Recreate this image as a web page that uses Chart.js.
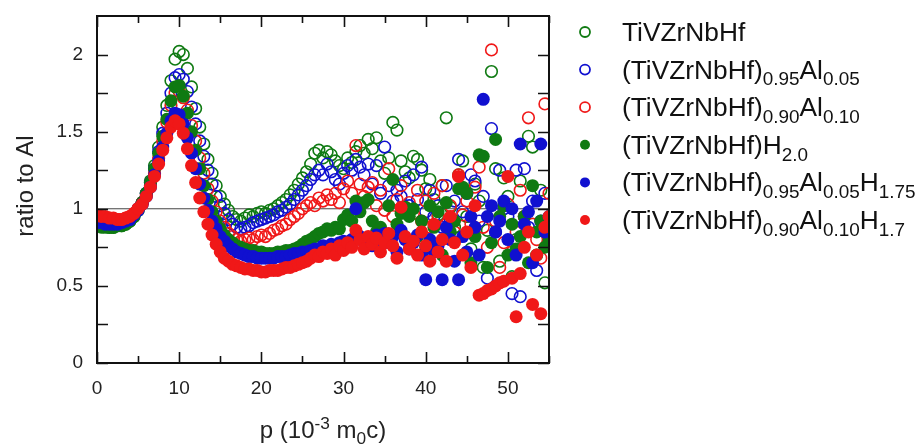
<!DOCTYPE html>
<html lang="en">
<head>
  <meta charset="UTF-8" />
  <title>Ratio to Al</title>
  <script src="https://cdn.jsdelivr.net/npm/chart.js"></script>
  <style>
    body {
      margin: 0;
      background: #fff;
    }
  </style>
</head>
<body>
  <canvas id="chartRatio" width="920" height="445"></canvas>

  <script>
    // momentum p (10^-3 m0c), shared by all series
    const pValues = [
      0, 0.5, 1, 1.5, 2, 2.5, 3, 3.5, 4, 4.5, 5, 5.5, 6, 6.5, 7, 7.5, 8, 8.5, 9, 9.5,
      10, 10.5, 11, 11.5, 12, 12.5, 13, 13.5, 14, 14.5, 15, 15.5, 16, 16.5, 17, 17.5, 18, 18.5, 19, 19.5,
      20, 20.5, 21, 21.5, 22, 22.5, 23, 23.5, 24, 24.5, 25, 25.5, 26, 26.5, 27, 27.5, 28, 28.5, 29, 29.5,
      30, 30.5, 31, 31.5, 32, 32.5, 33, 33.5, 34, 34.5, 35, 35.5, 36, 36.5, 37, 37.5, 38, 38.5, 39, 39.5,
      40, 40.5, 41, 41.5, 42, 42.5, 43, 43.5, 44, 44.5, 45, 45.5, 46, 46.5, 47, 47.5, 48, 48.5, 49, 49.5,
      50, 50.5, 51, 51.5, 52, 52.5, 53, 53.5, 54, 54.5, 55
    ];

    // TiVZrNbHf (open green)
    const hea = [
      0.90, 0.89, 0.89, 0.88, 0.88, 0.89, 0.89, 0.90, 0.92, 0.95, 0.99, 1.04, 1.10, 1.18, 1.28, 1.40, 1.53, 1.67, 1.83, 1.97,
      2.02, 2.00, 1.91, 1.79, 1.65, 1.53, 1.42, 1.32, 1.23, 1.15, 1.08, 1.03, 0.99, 0.95, 0.93, 0.92, 0.94, 0.96, 0.95, 0.97,
      0.98, 0.97, 0.99, 1.00, 1.02, 1.04, 1.06, 1.09, 1.12, 1.16, 1.20, 1.24, 1.29, 1.36, 1.38, 1.33, 1.37, 1.35, 1.31, 1.28,
      1.26, 1.33, 1.30, 1.37, 1.41, 1.36, 1.45, 1.39, 1.46, 1.31, 1.23, 1.33, 1.56, 1.51, 1.31, 1.24, 1.20, 1.34, 1.32, 1.25,
      1.13, 1.19, 1.06, 0.96, 1.15, 1.59, 1.01, 0.88, 1.22, 1.31, 0.95, 0.74, 1.16, 1.05, 0.62, 0.86, 1.89, 1.26, 0.66, 1.20,
      1.08, 0.56, 0.80, 1.18, 0.95, 1.47, 1.40, 0.70, 1.12, 0.52, 0.82
    ];
    // (TiVZrNbHf)0.95Al0.05 (open blue)
    const heaAl5 = [
      0.91, 0.91, 0.90, 0.90, 0.90, 0.90, 0.91, 0.92, 0.93, 0.96, 1.00, 1.04, 1.10, 1.17, 1.26, 1.37, 1.49, 1.62, 1.75, 1.85,
      1.87, 1.84, 1.76, 1.66, 1.55, 1.44, 1.34, 1.25, 1.16, 1.08, 1.02, 0.97, 0.93, 0.90, 0.88, 0.87, 0.88, 0.89, 0.91, 0.92,
      0.93, 0.94, 0.95, 0.96, 0.98, 0.99, 1.01, 1.03, 1.06, 1.09, 1.12, 1.15, 1.19, 1.22, 1.25, 1.22, 1.29, 1.24, 1.19, 1.16,
      1.23, 1.28, 1.25, 1.32, 1.27, 1.22, 1.29, 1.16, 1.28, 1.10, 1.40, 1.15, 1.05, 1.12, 1.08, 1.18, 1.02, 1.22, 1.06, 1.27,
      0.98, 1.12, 0.95, 1.02, 0.88, 1.15, 0.92, 1.05, 1.32, 0.98, 1.10, 1.22, 1.18, 0.92, 1.08, 0.55, 1.52, 0.85, 1.25, 1.00,
      0.95, 0.45, 1.25, 0.43, 1.26, 0.88, 1.05, 0.60, 0.92, 1.10, 0.78
    ];
    // (TiVZrNbHf)0.90Al0.10 (open red)
    const heaAl10 = [
      0.95, 0.95, 0.94, 0.94, 0.93, 0.93, 0.93, 0.94, 0.95, 0.97, 1.00, 1.04, 1.09, 1.15, 1.23, 1.33, 1.44, 1.56, 1.67, 1.75,
      1.76, 1.72, 1.64, 1.54, 1.44, 1.33, 1.23, 1.13, 1.05, 0.98, 0.92, 0.88, 0.84, 0.82, 0.80, 0.79, 0.80, 0.81, 0.80, 0.82,
      0.83, 0.82, 0.84, 0.86, 0.87, 0.89, 0.90, 0.93, 0.95, 0.97, 1.00, 1.02, 1.04, 1.02, 1.07, 1.05, 1.09, 1.06, 1.10, 1.04,
      1.13, 1.18, 1.10, 1.41, 1.16, 1.08, 1.14, 1.17, 1.02, 1.12, 0.99, 1.26, 0.95, 1.06, 1.15, 1.01, 1.04, 0.97, 1.12, 0.92,
      1.05, 0.88, 1.10, 0.95, 1.15, 0.90, 1.02, 0.85, 1.22, 0.96, 1.05, 0.90, 1.14, 1.27, 0.88, 0.75, 2.03, 0.92, 0.62, 0.78,
      1.03, 0.72, 0.85, 1.12, 0.95, 1.59, 0.90, 0.80, 0.68, 1.68, 1.10
    ];
    // (TiVZrNbHf)H2.0 (filled green)
    const heaH = [
      0.89, 0.88, 0.88, 0.88, 0.88, 0.89, 0.89, 0.90, 0.92, 0.95, 0.99, 1.04, 1.10, 1.17, 1.26, 1.36, 1.47, 1.58, 1.70, 1.79,
      1.80, 1.73, 1.62, 1.50, 1.38, 1.26, 1.15, 1.06, 0.98, 0.92, 0.87, 0.83, 0.80, 0.78, 0.76, 0.75, 0.74, 0.73, 0.73, 0.72,
      0.72, 0.71, 0.71, 0.71, 0.72, 0.72, 0.73, 0.73, 0.74, 0.75, 0.77, 0.79, 0.80, 0.82, 0.84, 0.85, 0.87, 0.86, 0.88, 0.87,
      0.93, 0.96, 0.92, 1.05, 0.98, 1.04, 1.06, 0.92, 0.85, 0.88, 0.80, 1.02, 1.19, 0.90, 0.97, 1.01, 0.95, 1.00, 0.82, 0.92,
      0.75, 1.02, 0.88, 0.98, 0.70, 1.04, 0.85, 0.92, 1.13, 1.14, 1.10, 0.65, 0.82, 1.35, 1.34, 0.62, 0.78, 1.45, 0.95, 1.02,
      0.70, 0.90, 0.74, 0.82, 0.95, 0.65, 1.15, 0.85, 0.92, 0.75, 0.80
    ];
    // (TiVZrNbHf)0.95Al0.05H1.75 (filled blue)
    const heaAl5H = [
      0.91, 0.91, 0.90, 0.90, 0.90, 0.90, 0.91, 0.92, 0.93, 0.96, 0.99, 1.03, 1.08, 1.14, 1.22, 1.31, 1.40, 1.49, 1.57, 1.62,
      1.61, 1.55, 1.46, 1.36, 1.26, 1.16, 1.07, 0.99, 0.92, 0.87, 0.82, 0.79, 0.76, 0.74, 0.72, 0.71, 0.70, 0.69, 0.69, 0.68,
      0.68, 0.68, 0.68, 0.68, 0.69, 0.69, 0.69, 0.70, 0.71, 0.71, 0.72, 0.72, 0.73, 0.74, 0.74, 0.76, 0.75, 0.77, 0.76, 0.78,
      0.79, 0.78, 0.80, 1.00, 0.82, 0.78, 0.81, 0.76, 0.83, 0.80, 0.84, 0.78, 0.82, 0.72, 0.86, 0.80, 0.74, 0.78, 0.83, 0.70,
      0.54, 0.80, 0.72, 0.76, 0.54, 0.88, 0.80, 0.66, 0.54, 0.82, 0.72, 0.95, 0.88, 0.70, 1.71, 0.95, 1.02, 0.85, 0.92, 1.05,
      0.80, 1.00, 0.70, 1.42, 0.90, 0.98, 0.65, 1.05, 1.42, 0.85, 0.95
    ];
    // (TiVZrNbHf)0.90Al0.10H1.7 (filled red)
    const heaAl10H = [
      0.96, 0.95, 0.95, 0.94, 0.94, 0.93, 0.93, 0.94, 0.95, 0.97, 1.00, 1.03, 1.08, 1.14, 1.21, 1.29, 1.38, 1.46, 1.53, 1.57,
      1.55, 1.49, 1.39, 1.28, 1.17, 1.07, 0.98, 0.90, 0.83, 0.77, 0.72, 0.68, 0.66, 0.64, 0.63, 0.62, 0.61, 0.61, 0.60, 0.60,
      0.59, 0.59, 0.60, 0.60, 0.60, 0.61, 0.62, 0.62, 0.63, 0.64, 0.65, 0.66, 0.68, 0.70, 0.69, 0.72, 0.71, 0.74, 0.70, 0.76,
      0.73, 0.78, 0.75, 0.86, 0.80, 0.74, 0.82, 0.77, 0.81, 0.72, 0.78, 0.84, 0.76, 0.68, 1.01, 0.82, 0.74, 0.79, 0.70, 0.85,
      0.76, 0.66, 0.90, 0.72, 0.80, 0.66, 0.95, 0.78, 1.21, 0.70, 0.85, 0.62, 1.02, 0.44, 0.45, 0.47, 0.48, 0.50, 0.52, 0.53,
      1.21, 0.55, 0.30, 0.58, 0.75, 0.85, 0.38, 0.70, 0.32, 0.88, 0.95
    ];

    const seriesData = [hea, heaAl5, heaAl10, heaH, heaAl5H, heaAl10H];
    // legend labels as [text, 'n' | 'sub'] pieces
    const seriesLabels = [
      [["TiVZrNbHf", "n"]],
      [["(TiVZrNbHf)", "n"], ["0.95", "sub"], ["Al", "n"], ["0.05", "sub"]],
      [["(TiVZrNbHf)", "n"], ["0.90", "sub"], ["Al", "n"], ["0.10", "sub"]],
      [["(TiVZrNbHf)H", "n"], ["2.0", "sub"]],
      [["(TiVZrNbHf)", "n"], ["0.95", "sub"], ["Al", "n"], ["0.05", "sub"], ["H", "n"], ["1.75", "sub"]],
      [["(TiVZrNbHf)", "n"], ["0.90", "sub"], ["Al", "n"], ["0.10", "sub"], ["H", "n"], ["1.7", "sub"]]
    ];
    const seriesColors = ["#0f7a12", "#1010d0", "#f01818", "#0f7a12", "#1010d0", "#f01818"];
    const seriesFilled = [false, false, false, true, true, true];

    const refX = [0, 55];
    const refY = [1, 1];
    const xTicks = [0, 10, 20, 30, 40, 50];
    const yTicks = [0, 0.5, 1, 1.5, 2];
    const xMinor = [5, 15, 25, 35, 45, 55];
    const yMinor = [0.25, 0.75, 1.25, 1.75];

    const FONT = '"Liberation Sans", Arial, sans-serif';

    function drawRich(ctx, parts, x, y, size) {
      parts.forEach(([txt, kind]) => {
        let fs = size, dy = 0;
        if (kind === "sub") { fs = size * 0.72; dy = size * 0.26; }
        if (kind === "sup") { fs = size * 0.72; dy = -size * 0.38; }
        ctx.font = fs + "px " + FONT;
        ctx.fillText(txt, x, y + dy);
        x += ctx.measureText(txt).width;
      });
      return x;
    }

    function richWidth(ctx, parts, size) {
      let w = 0;
      parts.forEach(([txt, kind]) => {
        const fs = kind === "n" ? size : size * 0.72;
        ctx.font = fs + "px " + FONT;
        w += ctx.measureText(txt).width;
      });
      return w;
    }

    // frame with inward ticks on all four sides, axis titles, legend
    const framePlugin = {
      id: "frame",
      afterDatasetsDraw(chart) {
        const { ctx, chartArea: a, scales } = chart;
        ctx.save();
        ctx.strokeStyle = "#111";
        ctx.lineWidth = 1.6;
        ctx.beginPath();
        xTicks.concat(xMinor).forEach(v => {
          const px = Math.round(scales.x.getPixelForValue(v)) + 0.5;
          const len = xTicks.includes(v) ? 11 : 7;
          ctx.moveTo(px, a.bottom); ctx.lineTo(px, a.bottom - len);
          ctx.moveTo(px, a.top); ctx.lineTo(px, a.top + len);
        });
        yTicks.concat(yMinor).forEach(v => {
          const py = Math.round(scales.y.getPixelForValue(v)) + 0.5;
          ctx.moveTo(a.left, py); ctx.lineTo(a.left + 11, py);
          ctx.moveTo(a.right, py); ctx.lineTo(a.right - 11, py);
        });
        ctx.stroke();
        ctx.lineWidth = 2;
        ctx.strokeRect(a.left, a.top, a.right - a.left, a.bottom - a.top);

        ctx.fillStyle = "#222";
        const xt = [["p (10", "n"], ["-3", "sup"], [" m", "n"], ["0", "sub"], ["c)", "n"]];
        const w = richWidth(ctx, xt, 24);
        ctx.textBaseline = "alphabetic";
        drawRich(ctx, xt, (a.left + a.right) / 2 - w / 2, 438, 24);

        ctx.translate(33, 186);
        ctx.rotate(-Math.PI / 2);
        ctx.font = "24px " + FONT;
        ctx.textAlign = "center";
        ctx.fillText("ratio to Al", 0, 0);
        ctx.restore();

        ctx.save();
        seriesLabels.forEach((parts, i) => {
          const cy = 32 + i * 37.6;
          ctx.beginPath();
          ctx.arc(585, cy, 5, 0, Math.PI * 2);
          if (seriesFilled[i]) {
            ctx.fillStyle = seriesColors[i];
            ctx.fill();
          } else {
            ctx.strokeStyle = seriesColors[i];
            ctx.lineWidth = 1.8;
            ctx.stroke();
          }
          ctx.fillStyle = "#111";
          ctx.textAlign = "left";
          ctx.textBaseline = "alphabetic";
          drawRich(ctx, parts, 622, cy + 9, 26.3);
        });
        ctx.restore();
      }
    };

    const datasets = seriesData.map((vals, i) => ({
      label: seriesLabels[i].map(p => p[0]).join(""),
      data: pValues.map((p, k) => ({ x: p, y: vals[k] })),
      showLine: false,
      pointRadius: seriesFilled[i] ? 6.5 : 5.8,
      pointBorderWidth: seriesFilled[i] ? 0 : 1.6,
      pointBorderColor: seriesColors[i],
      pointBackgroundColor: seriesFilled[i] ? seriesColors[i] : "rgba(0,0,0,0)",
      order: 6 - i
    }));

    datasets.push({
      type: "line",
      label: "reference",
      data: refX.map((x, k) => ({ x: x, y: refY[k] })),
      borderColor: "#444",
      borderWidth: 1,
      pointRadius: 0,
      order: 10
    });

    new Chart(document.getElementById("chartRatio"), {
      type: "scatter",
      data: { datasets: datasets },
      options: {
        responsive: false,
        animation: false,
        devicePixelRatio: 1,
        layout: { padding: { left: 0, top: 16, right: 371, bottom: 0 } },
        plugins: {
          legend: { display: false },
          tooltip: { enabled: false }
        },
        scales: {
          x: {
            type: "linear",
            min: 0,
            max: 55,
            afterBuildTicks: s => { s.ticks = xTicks.map(v => ({ value: v })); },
            afterFit: s => { s.height = 82; s.paddingLeft = 0; s.paddingRight = 0; },
            grid: { display: false, drawTicks: false },
            border: { display: false },
            ticks: {
              color: "#222",
              font: { family: FONT, size: 19 },
              padding: 14,
              maxRotation: 0,
              callback: v => String(v)
            }
          },
          y: {
            min: 0,
            max: 2.25,
            afterBuildTicks: s => { s.ticks = yTicks.map(v => ({ value: v })); },
            afterFit: s => { s.width = 97; s.paddingTop = 0; s.paddingBottom = 0; },
            grid: { display: false, drawTicks: false },
            border: { display: false },
            ticks: {
              color: "#222",
              font: { family: FONT, size: 19 },
              padding: 14,
              callback: v => String(v)
            }
          }
        }
      },
      plugins: [framePlugin]
    });
  </script>
</body>
</html>
